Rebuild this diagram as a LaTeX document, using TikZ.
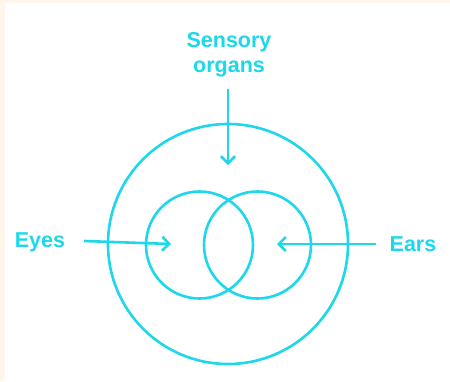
\documentclass[tikz,border=0pt]{standalone}
\usepackage{fontspec}
\setmainfont{Liberation Sans}
\usetikzlibrary{arrows.meta}
\definecolor{cy}{RGB}{28,216,234}
\definecolor{cream}{RGB}{254,246,234}
\begin{document}
\begin{tikzpicture}[x=1pt,y=-1pt,
  lbl/.style={text=cy,font=\fontsize{21.5}{25}\selectfont\bfseries,inner sep=0pt,align=center},
  ring/.style={draw=cy,line width=2.6pt,circle,inner sep=0pt,minimum size=#1},
  arr/.style={draw=cy,line width=2.6pt,-{Straight Barb[length=7pt,width=14pt,line width=2.6pt]}}]
\fill[cream] (0,0) rectangle (450,381);
\fill[white] (5,3) rectangle (450,381);
\useasboundingbox (0,0) rectangle (450,381);
\node[ring=240pt] (outer) at (228,244) {};
\node[ring=107pt] (left) at (199.5,245) {};
\node[ring=107pt] (right) at (257.5,245) {};
\node[lbl] (sens) at (229,55) {Sensory\\organs};
\node[lbl] (eyes) at (40,242) {Eyes};
\node[lbl] (ears) at (413,244) {Ears};
\coordinate (sA) at (228,89);
\coordinate (sB) at (228,165);
\coordinate (eA) at (84,241);
\coordinate (eB) at (171,244);
\coordinate (rA) at (376,244);
\coordinate (rB) at (277,244);
\draw[arr] (sA) -- (sB);
\draw[arr] (eA) -- (eB);
\draw[arr] (rA) -- (rB);
\end{tikzpicture}
\end{document}
